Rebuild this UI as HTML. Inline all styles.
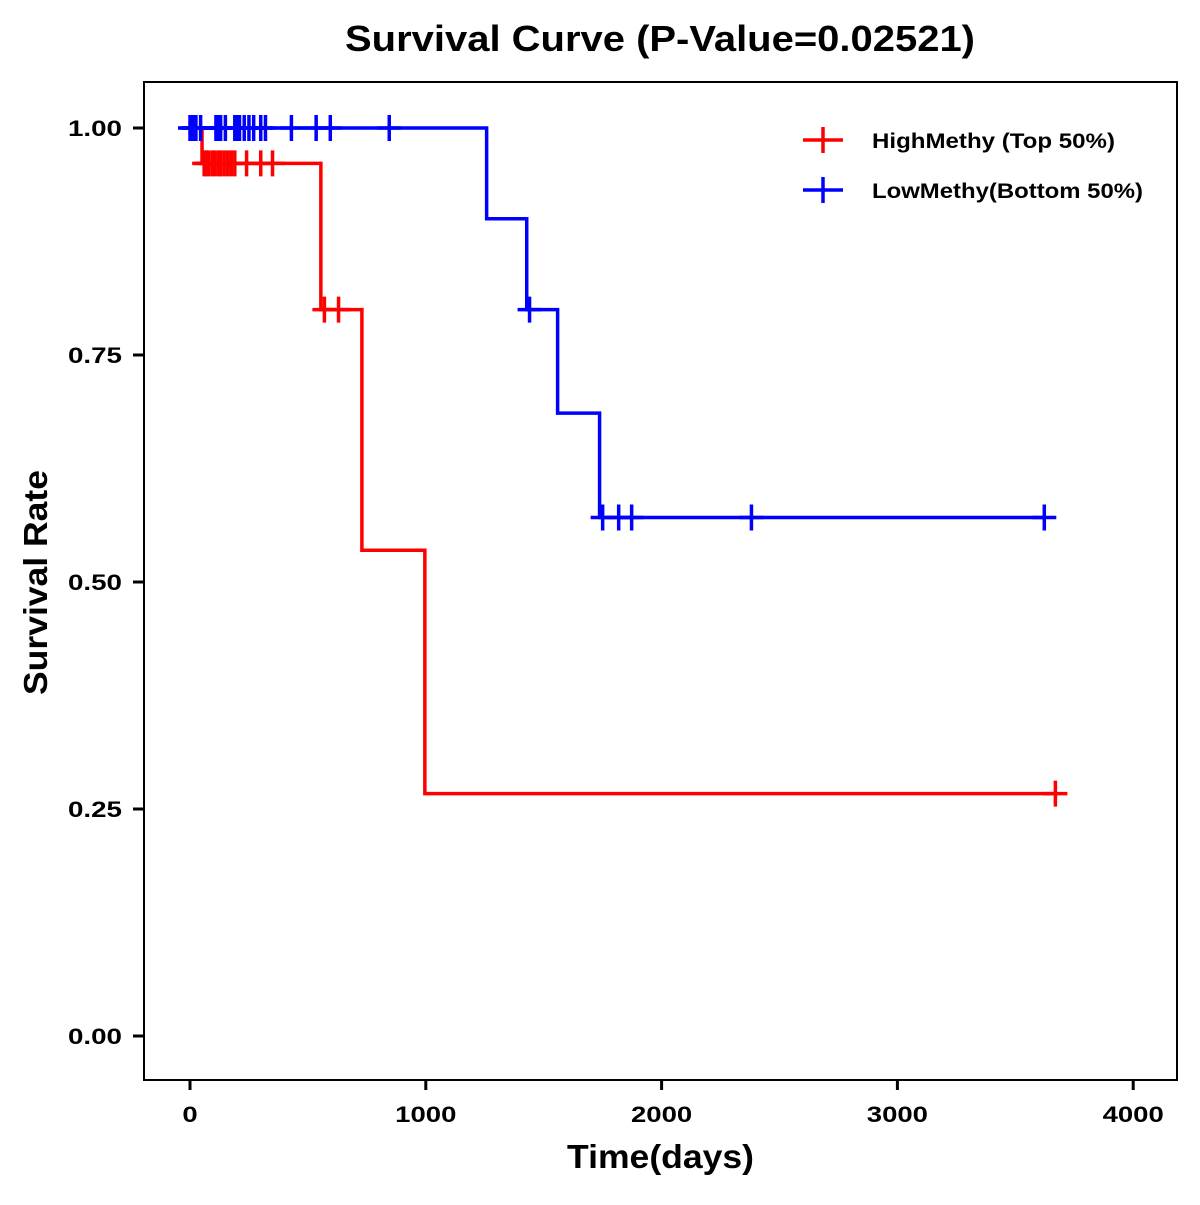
<!DOCTYPE html>
<html><head><meta charset="utf-8"><style>
body{margin:0;background:#fff}
svg text{font-family:"Liberation Sans",Arial,sans-serif;font-weight:bold}
</style></head><body>
<svg id="chart" width="1200" height="1200" viewBox="0 0 1200 1200">
<rect x="0" y="0" width="1200" height="1200" fill="#fff"/>
<text x="345" y="51" font-size="36" textLength="630" lengthAdjust="spacingAndGlyphs">Survival Curve (P-Value=0.02521)</text>
<g id="plot"></g>
<rect x="144" y="82" width="1033" height="998" fill="none" stroke="#000" stroke-width="2"/>
<text x="567" y="1168" font-size="33" textLength="187" lengthAdjust="spacingAndGlyphs">Time(days)</text>
<text transform="translate(47,695) rotate(-90)" font-size="33" textLength="225" lengthAdjust="spacingAndGlyphs">Survival Rate</text>
<g>
<g>
<line x1="803" y1="140" x2="843" y2="140" stroke="#f00" stroke-width="3.5"/><line x1="823" y1="127" x2="823" y2="153" stroke="#f00" stroke-width="3.5"/>
<text x="872" y="148" font-size="21" textLength="243" lengthAdjust="spacingAndGlyphs">HighMethy (Top 50%)</text></g>
<g>
<line x1="803" y1="190" x2="843" y2="190" stroke="#00f" stroke-width="3.5"/><line x1="823" y1="177" x2="823" y2="203" stroke="#00f" stroke-width="3.5"/>
<text x="872" y="198" font-size="21" textLength="271" lengthAdjust="spacingAndGlyphs">LowMethy(Bottom 50%)</text></g>
</g>
</svg>
<script>
const xTicks=[0,1000,2000,3000,4000];
const yTicks=[0,0.25,0.5,0.75,1];
const yTickLabels=["0.00","0.25","0.50","0.75","1.00"];
const highStepTimes=[0,51,555,729,996,3670];
const highStepSurv=[1,0.961,0.80,0.535,0.267,0.267];
const highCensorTimes=[60,70,80,95,105,120,130,145,160,175,190,240,300,350,570,630,3670];
const lowStepTimes=[0,1258,1428,1559,1737,3623];
const lowStepSurv=[1,0.90,0.80,0.686,0.571,0.571];
const lowCensorTimes=[0,5,15,25,45,110,120,130,150,190,200,210,230,250,270,300,320,430,535,595,845,1440,1750,1818,1873,2381,3623];
const X=t=>190+t*0.2358;
const Y=s=>1036-s*908;
const NS="http://www.w3.org/2000/svg";
const g=document.getElementById('plot');
function mk(tag,attrs){const e=document.createElementNS(NS,tag);for(const k in attrs)e.setAttribute(k,attrs[k]);g.appendChild(e);return e;}
xTicks.forEach(t=>{
 const l=mk('line',{x1:X(t),x2:X(t),y1:1081,y2:1090,stroke:'#000','stroke-width':3});
 
 
 const w=String(t).length*15.3;
 const tx=mk('text',{x:X(t)-w/2,y:1122,'font-size':22,textLength:w,lengthAdjust:'spacingAndGlyphs'});tx.textContent=t;
 
 
});
yTicks.forEach((v,i)=>{
 const l=mk('line',{x1:133,x2:143,y1:Y(v),y2:Y(v),stroke:'#000','stroke-width':3});
 
 
 const tx=mk('text',{x:68,y:Y(v)+8,'font-size':22,textLength:54,lengthAdjust:'spacingAndGlyphs'});tx.textContent=yTickLabels[i];
 
 
});
function survAt(times,surv,t){let s=surv[0];for(let i=0;i<times.length;i++){if(times[i]<=t)s=surv[i];}return s;}
function series(times,surv,cens,color,name){
 let d='M'+X(times[0])+','+Y(surv[0]);
 for(let i=1;i<times.length;i++){d+=' H'+X(times[i])+' V'+Y(surv[i]);}
 const p=mk('path',{d:d,fill:'none',stroke:color,'stroke-width':3.5});
 
 
 cens.forEach(t=>{
  const s=survAt(times,surv,t);const cx=X(t),cy=Y(s);
  const c=mk('path',{d:'M'+(cx-12)+','+cy+' H'+(cx+12)+' M'+cx+','+(cy-13)+' V'+(cy+13),stroke:color,'stroke-width':3.5,fill:'none'});
  
  
 });
}
series(highStepTimes,highStepSurv,highCensorTimes,'#f00','high-methy');
series(lowStepTimes,lowStepSurv,lowCensorTimes,'#00f','low-methy');
</script>
</body></html>
